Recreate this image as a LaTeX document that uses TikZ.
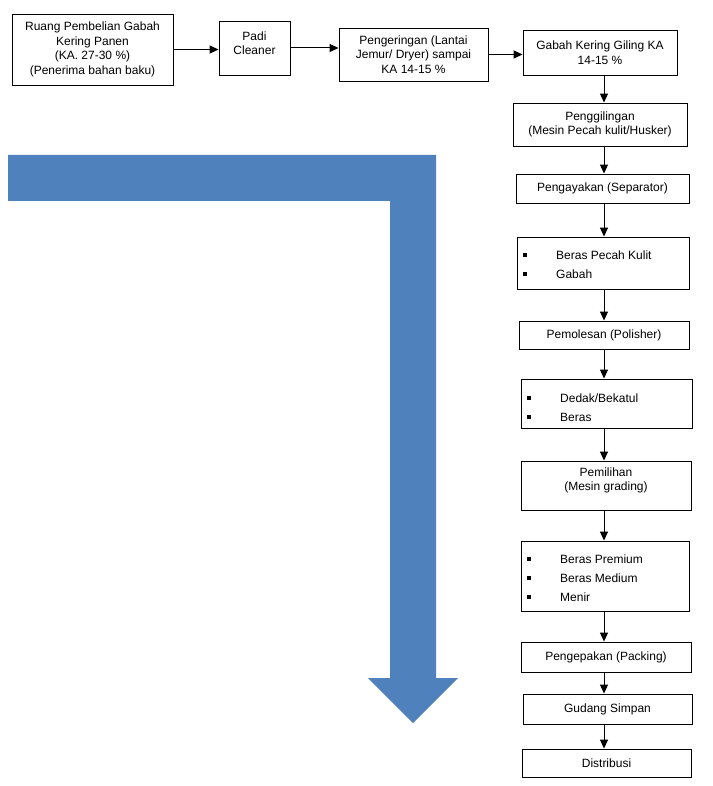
\documentclass[tikz,border=0pt]{standalone}
\usepackage{fontspec}
\setmainfont{Liberation Sans}
\usetikzlibrary{arrows.meta}
\definecolor{arrowblue}{HTML}{4F81BD}
\begin{document}
\begin{tikzpicture}[x=1pt,y=-1pt,
  box/.style={draw=black,line width=0.9pt,inner sep=0pt,align=center,font=\fontsize{12}{14.5}\selectfont},
  txt/.style={inner sep=0pt,align=center,font=\fontsize{12}{14.5}\selectfont},
  item/.style={inner sep=0pt,anchor=base west,font=\fontsize{12}{14.5}\selectfont},
  bullet/.style={fill=black,minimum size=4pt,inner sep=0pt},
  flow/.style={line width=1pt,-{Triangle[length=9pt,width=8pt]}}]
\useasboundingbox (0,0) rectangle (712,786);

% big blue arrow
\fill[arrowblue] (8,155) -- (436,155) -- (436,678) -- (458,678) -- (413,723)
  -- (368,678) -- (390,678) -- (390,201) -- (8,201) -- cycle;

% top row
\node[box,minimum width=161pt,minimum height=71pt] (b1) at (92.5,49.5)
  {Ruang Pembelian Gabah\\Kering Panen\\(KA. 27-30 \%)\\(Penerima bahan baku)};
\node[box,minimum width=71pt,minimum height=54pt] (b2) at (254.5,48) {};
\node[txt] (t2) at (254.5,43) {Padi\\Cleaner};
\node[box,minimum width=149pt,minimum height=53pt] (b3) at (413.5,54.5)
  {Pengeringan (Lantai\\Jemur/ Dryer) sampai\\KA 14-15 \%};
\node[box,minimum width=154pt,minimum height=45pt] (b4) at (600,52.5)
  {Gabah Kering Giling KA\\14-15 \%};

% right column
\node[box,minimum width=174pt,minimum height=43pt] (b5) at (600,124.5)
  {Penggilingan\\(Mesin Pecah kulit/Husker)};
\node[box,minimum width=173pt,minimum height=29pt] (b6) at (602.5,188.5)
  {Pengayakan (Separator)};
\node[box,minimum width=172pt,minimum height=52pt] (b7) at (603,263) {};
\node[bullet] (u71) at (525,255) {};
\node[bullet] (u72) at (525,274) {};
\node[item] (i71) at (556,259) {Beras Pecah Kulit};
\node[item] (i72) at (556,278) {Gabah};
\node[box,minimum width=170pt,minimum height=28pt] (b8) at (604,335)
  {Pemolesan (Polisher)};
\node[box,minimum width=171pt,minimum height=49pt] (b9) at (606.5,403.5) {};
\node[bullet] (u91) at (529,398) {};
\node[bullet] (u92) at (529,417) {};
\node[item] (i91) at (560,402) {Dedak/Bekatul};
\node[item] (i92) at (560,421) {Beras};
\node[box,minimum width=170pt,minimum height=49pt] (b10) at (606,485.5) {};
\node[txt] (t10) at (606,480.5) {Pemilihan\\(Mesin grading)};
\node[box,minimum width=168pt,minimum height=70pt] (b11) at (605,576) {};
\node[bullet] (u111) at (529,559) {};
\node[bullet] (u112) at (529,578) {};
\node[bullet] (u113) at (529,597) {};
\node[item] (i111) at (560,563) {Beras Premium};
\node[item] (i112) at (560,582) {Beras Medium};
\node[item] (i113) at (560,601) {Menir};
\node[box,minimum width=170pt,minimum height=30pt] (b12) at (606,657)
  {Pengepakan (Packing)};
\node[box,minimum width=169pt,minimum height=30pt] (b13) at (607.5,709)
  {Gudang Simpan};
\node[box,minimum width=169pt,minimum height=28pt] (b14) at (606.5,763)
  {Distribusi};

% connectors
\draw[flow] (b1.east) -- (b1.east -| b2.west);
\draw[flow] (b2.east) -- (b2.east -| b3.west);
\draw[flow] (b3.east) -- (b3.east -| b4.west);
\coordinate (ax) at (604,0);
\draw[flow] (b4.south -| ax) -- (b5.north -| ax);
\draw[flow] (b5.south -| ax) -- (b6.north -| ax);
\draw[flow] (b6.south -| ax) -- (b7.north -| ax);
\draw[flow] (b7.south -| ax) -- (b8.north -| ax);
\draw[flow] (b8.south -| ax) -- (b9.north -| ax);
\draw[flow] (b9.south -| ax) -- (b10.north -| ax);
\draw[flow] (b10.south -| ax) -- (b11.north -| ax);
\draw[flow] (b11.south -| ax) -- (b12.north -| ax);
\draw[flow] (b12.south -| ax) -- (b13.north -| ax);
\draw[flow] (b13.south -| ax) -- (b14.north -| ax);
\end{tikzpicture}
\end{document}
